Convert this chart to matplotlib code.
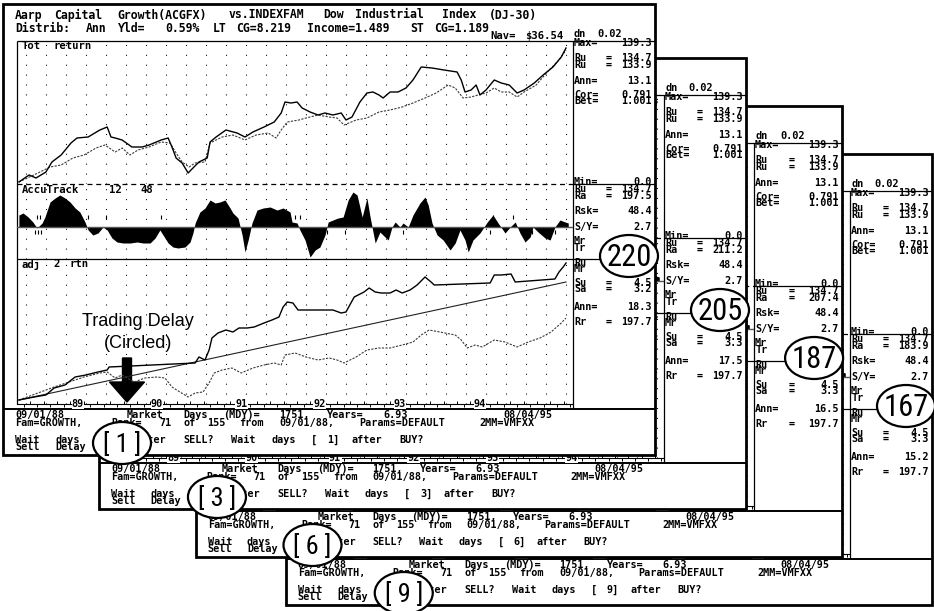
import re
import numpy as np
import matplotlib
matplotlib.use("Agg")
import matplotlib.pyplot as plt
from matplotlib import font_manager
from matplotlib.patches import Rectangle, Ellipse, FancyArrow

W, H = 934, 611

# ---- values (x = market day counted from 09/01/88) ----
tot_days = [6, 38, 60, 91, 110, 139, 170, 189, 224, 261, 284, 296, 309, 331, 362, 394, 416, 454, 476, 488,
            501, 520, 539, 548, 573, 599, 608, 627, 658, 693, 718, 743, 778, 810, 832, 844, 863, 882, 898, 923,
            948, 970, 995, 1021, 1036, 1055, 1080, 1102, 1121, 1140, 1153, 1175, 1200, 1225, 1247, 1273, 1307,
            1345, 1386, 1399, 1411, 1430, 1446, 1458, 1477, 1503, 1525, 1550, 1575, 1597, 1629, 1657, 1688,
            1714, 1729]
fund_tot = [2, 9, 6, 12, 22, 29, 41, 46, 47, 54, 57, 47, 46, 44, 37, 37, 39, 44, 46, 37,
            26, 21, 11, 14, 22, 26, 42, 47, 54, 51, 47, 52, 57, 62, 71, 82, 81, 82, 76, 72,
            69, 71, 69, 71, 64, 67, 82, 91, 92, 89, 86, 92, 92, 96, 104, 117, 116,
            114, 112, 104, 92, 94, 99, 89, 94, 104, 101, 99, 91, 94, 101, 109, 117,
            127, 136]

index_days = [6, 66, 104, 139, 176, 211, 249, 277, 309, 331, 356, 381, 416, 454, 482, 501, 520, 542, 561,
              592, 608, 646, 680, 718, 753, 791, 816, 832, 851, 888, 910, 948, 983, 1008, 1030, 1068, 1102,
              1140, 1175, 1213, 1247, 1285, 1320, 1358, 1380, 1405, 1430, 1452, 1477, 1503, 1525, 1550,
              1575, 1597, 1635, 1670, 1707, 1729]
index_tot = [2, 11, 17, 19, 26, 29, 36, 39, 32, 36, 29, 34, 37, 42, 41, 31, 22, 17, 21,
             22, 41, 47, 49, 44, 49, 51, 46, 54, 62, 64, 66, 69, 67, 66, 59, 64, 66,
             72, 74, 77, 81, 86, 91, 99, 96, 86, 87, 89, 91, 96, 92, 92,
             87, 92, 99, 112, 124, 134]

accu_days = [6, 19, 35, 50, 63, 79, 88, 104, 120, 135, 151, 167, 183, 198, 214, 224, 239, 255, 271, 284,
             299, 315, 334, 356, 378, 397, 419, 435, 450, 460, 476, 491, 507, 529, 545, 554, 561, 576, 592,
             608, 624, 639, 655, 671, 680, 696, 709, 718, 728, 740, 756, 775, 797, 819, 838, 860, 866, 882,
             891, 907, 923, 939, 954, 970, 980, 995, 1011, 1027, 1043, 1058, 1071, 1087, 1102, 1112, 1128,
             1143, 1159, 1169, 1181, 1191, 1206, 1216, 1232, 1247, 1269, 1285, 1295, 1307, 1323, 1342,
             1364, 1380, 1395, 1411, 1421, 1436, 1458, 1481, 1499, 1515, 1537, 1553, 1569, 1584, 1600,
             1616, 1625, 1641, 1663, 1679, 1694, 1710, 1726, 1736]
accu_vals = [12, 14, 10, 5, -1, 4, 10, 25, 29, 32, 29, 25, 19, 15, 5, -3, -8, -6, 0, -3,
             -11, -15, -16, -16, -15, -16, -16, -11, -3, -8, -16, -20, -21, -20, -15, -6, 4, 15, 19,
             27, 24, 25, 27, 19, 14, 9, -8, -25, -13, 4, 17, 19, 20, 17, 19, 15, 5, 4,
             -3, -13, -30, -23, -20, -8, 5, 7, 9, 10, 27, 35, 32, 10, 29, 10, -16,
             -5, -10, -13, 0, 5, 0, 4, 0, 12, 24, 30, 22, 4, -8, -13,
             -23, -16, -3, -13, -25, -13, -6, 5, 12, 4, -6, 0, 5, -6, -15,
             -10, 0, -5, -11, -13, 0, 7, 5, 4]
sig_up_days = [63, 72, 224, 280, 454, 876, 891, 1499, 1562]
sig_dn_days = [57, 66, 76, 977, 1033, 1216, 1411, 1490, 1622, 1694]

adj_days = [6, 54, 91, 117, 151, 183, 217, 255, 284, 290, 561, 573, 592, 605, 614, 633, 658, 680, 699, 725,
            747, 778, 803, 825, 838, 851, 869, 885, 970, 995, 1021, 1036, 1062, 1093, 1109, 1128, 1147,
            1175, 1194, 1213, 1238, 1260, 1285, 1304, 1314, 1490, 1503, 1525, 1556, 1569, 1694, 1707,
            1720, 1729]
adj_vals = [4, 7, 9, 16, 19, 27, 29, 32, 34, 37, 41, 47, 44, 54, 66, 71, 74, 72, 76, 76,
            77, 81, 84, 87, 97, 102, 101, 94, 94, 94, 91, 92, 107, 112, 116, 112, 111,
            111, 114, 111, 114, 119, 127, 122, 119, 121, 129, 129, 130, 122, 125, 132,
            137, 141]
bh_days = [6, 66, 117, 164, 211, 261, 284, 309, 331, 369, 403, 441, 466, 488, 513, 539, 561, 586, 605, 621,
           646, 677, 706, 743, 778, 810, 832, 844, 876, 910, 948, 983, 1008, 1030, 1068, 1102, 1140, 1175,
           1213, 1247, 1273, 1298, 1332, 1380, 1399, 1418, 1443, 1465, 1503, 1537, 1575, 1610, 1647,
           1682, 1714, 1729]
bh_vals = [4, 11, 17, 22, 27, 31, 32, 26, 29, 22, 26, 27, 26, 17, 12, 7, 11, 12, 21, 31,
           34, 36, 31, 36, 39, 41, 39, 49, 51, 47, 44, 46, 44, 41, 47, 54, 56, 56,
           59, 62, 69, 74, 72, 69, 64, 56, 59, 57, 64, 62, 57, 62, 66, 72, 81, 86]
trend_days = [6, 1729]
trend_vals = [4, 122]

year_labels = ["89", "90", "91", "92", "93", "94"]
year_days = [192, 441, 706, 954, 1206, 1458]

title = "Aarp Capital Growth(ACGFX) vs.INDEXFAM Dow Industrial Index (DJ-30)"
distrib = "Distrib: Ann Yld=  0.59% LT CG=8.219 Income=1.489 ST CG=1.189"
nav = "Nav= $36.54"
dn = "dn 0.02"
side_labels = ["Max=", "Ru  =", "Ru  =", "Ann=", "Cor=", "Bet=", "Min=", "Ru  =", "Ra  =", "Rsk=",
               "S/Y=", "Mr  =", "Tr  =", "Ru", "Mr", "Su  =", "Sa  =", "Ann=", "Rr  ="]
wait_days = [1, 3, 6, 9]
circled_rank = [220, 205, 187, 167]
ra_vals = ["197.5", "211.2", "207.4", "183.9"]
sa_vals = ["3.2", "3.3", "3.3", "3.3"]
ann_adj_vals = ["18.3", "17.5", "16.5", "15.2"]

# ---- layout (panel 0 is the front screenshot) ----
panel_left = [3, 99, 196, 286]
panel_side = [573, 664, 754, 850]
panel_right = [655, 746, 842, 932]
panel_dy = [0, 54, 102, 150]
side_y = [43, 58, 65, 81, 95, 101, 182, 189, 196, 211, 227, 241, 248, 263, 269, 283, 289, 307, 322]
delay_circle = (122, 443, 58, 42)
rank_circle = (629, 256, 58, 42)
grid_days = np.arange(28, 1751, 63)
month_days = np.arange(0, 1751, 21)

MONO = "DejaVu Sans Mono"
_have = {f.name for f in font_manager.fontManager.ttflist}
NARROW = [f for f in ["Liberation Sans Narrow", "Roboto Condensed", "Roboto", "DejaVu Sans"] if f in _have]
SANS = [f for f in ["Liberation Sans", "Roboto", "DejaVu Sans"] if f in _have]

fig = plt.figure(figsize=(W / 100, H / 100), dpi=100)
fig.patch.set_facecolor("white")


def side_values(k):
    return ["139.3", "134.7", "133.9", "13.1", "0.791", "1.001", "0.0", "134.7", ra_vals[k], "48.4",
            "2.7", "", "", "", "", "4.5", sa_vals[k], ann_adj_vals[k], "197.7"]


def hidden(k, x0, x1, y):
    # text sits under a screenshot that lies in front of panel k
    xc = (x0 + x1) / 2.0
    for j in range(k):
        if (panel_left[j] <= x0 and xc <= panel_right[j]
                and 4 + panel_dy[j] <= y - 4 and y + 4 <= 455 + panel_dy[j]):
            return True
    return False


def in_circle(x, y):
    for cx, cy, w, h in (delay_circle, rank_circle):
        if ((x - cx) / (w / 2.0)) ** 2 + ((y - cy) / (h / 2.0)) ** 2 < 1:
            return True
    return False


def draw_panel(k):
    L, S, R, dy = panel_left[k], panel_side[k], panel_right[k], panel_dy[k]

    def X(x):
        if x <= 573:
            return L + (x - 3) * (S - L) / 570.0
        return S + (x - 573) * (R - S) / 82.0

    def Y(y):
        return y + dy

    z = 10 * (4 - k)
    pax = fig.add_axes([0, 0, 1, 1], zorder=z)
    pax.set_xlim(0, W)
    pax.set_ylim(H, 0)
    pax.axis("off")

    pax.add_patch(Rectangle((L, Y(4)), R - L, 451,
                            facecolor="white", edgecolor="black", lw=2.0, zorder=1))

    def line(xs, ys, lw=0.9, **kw):
        pax.plot([X(v) for v in xs], [Y(v) for v in ys], color="black", lw=lw,
                 solid_capstyle="butt", zorder=2, **kw)

    def mono(x, y, s, size=8.3, cw=7.9):
        for m in re.finditer(r"\S+", s):
            word = m.group()
            xr = x + m.start() * cw
            if in_circle(xr + len(word) * cw / 2.0, y):
                continue
            xa = X(xr)
            if hidden(k, xa, xa + len(word) * cw, Y(y)):
                continue
            pax.text(xa, Y(y), word, fontsize=size, family=MONO,
                     weight="bold", va="center", ha="left", zorder=3)

    line([17, 655], [40.5, 40.5])
    line([17, 17], [40.5, 404])
    line([573, 573], [40.5, 409])
    line([17, 573], [184, 184], linestyle=(0, (4, 3)))
    line([573, 655], [184, 184])
    line([17, 655], [259, 259])
    line([3, 655], [409, 409], lw=1.4)

    # header
    mono(15, 15, title)
    mono(15, 29, distrib)
    mono(490, 36, nav, size=7.6, cw=7.0)
    mono(574, 34, dn, size=7.4)

    mono(22, 46, "Tot return", size=7.6)
    mono(22, 190, "AccuTrack  12  48", size=7.6)
    mono(22, 264, "adj 2 rtn", size=7.6)

    # statistics column
    for lab, val, yy in zip(side_labels, side_values(k), side_y):
        mono(574, yy, lab, size=7.3)
        if val:
            pax.text(X(652), Y(yy), val, fontsize=7.3, family=MONO, weight="bold",
                     va="center", ha="right", zorder=3)

    # bottom text box
    d = wait_days[k]
    mono(15, 415, "09/01/88      Market Days (MDY)= 1751, Years= 6.93           08/04/95", size=7.3, cw=8.0)
    mono(15, 423, "Fam=GROWTH, Rank= 71 of 155 from 09/01/88, Params=DEFAULT 2MM=VMFXX", size=7.3, cw=8.0)
    mono(15, 440, "Wait days [ %d] after SELL? Wait days [ %d] after BUY?" % (d, d), size=7.3, cw=8.0)
    mono(15, 447.5, "Sell Delay", size=7.3, cw=8.0)

    # circled callouts
    cx, cy, cw_, ch_ = delay_circle
    pax.add_patch(Ellipse((X(cx), Y(cy)), cw_, ch_, facecolor="white", edgecolor="black", lw=1.6, zorder=5))
    pax.text(X(cx), Y(cy + 1), "[ %d ]" % d, fontsize=19, family=NARROW, ha="center", va="center", zorder=6)
    cx, cy, cw_, ch_ = rank_circle
    pax.add_patch(Ellipse((X(cx), Y(cy)), cw_, ch_, facecolor="white", edgecolor="black", lw=1.6, zorder=5))
    pax.text(X(cx), Y(cy + 1), str(circled_rank[k]), fontsize=22, family=NARROW,
             ha="center", va="center", zorder=6)

    if k == 0:
        pax.text(X(138), Y(321), "Trading Delay", fontsize=13, family=SANS, ha="center", va="center", zorder=4)
        pax.text(X(138), Y(343), "(Circled)", fontsize=13, family=SANS, ha="center", va="center", zorder=4)
        pax.add_patch(FancyArrow(X(127), Y(358), 0, 44, width=9, head_width=35, head_length=20,
                                 length_includes_head=True, color="black", zorder=4))

    def chart(x0, y0, x1, y1, grid=True):
        a = fig.add_axes([X(x0) / W, 1 - Y(y1) / H, (X(x1) - X(x0)) / W, (y1 - y0) / H], zorder=z + 1)
        a.patch.set_alpha(0)
        for s in a.spines.values():
            s.set_visible(False)
        a.set_xlim(0, 1751)
        a.set_yticks([])
        a.set_xticks(grid_days if grid else [])
        a.tick_params(length=0, labelbottom=False, labelleft=False)
        if grid:
            a.grid(axis="x", color="black", lw=0.75, linestyle=(0, (1, 8.5)))
        return a

    tot = chart(17, 40.5, 573, 184)
    tot.set_ylim(0, 143.5)
    tot.plot(index_days, index_tot, color="#3a3a3a", lw=0.8, linestyle=(0, (2, 1.2)))
    tot.plot(tot_days, fund_tot, color="black", lw=1.0)

    acc = chart(17, 184, 573, 259)
    acc.set_ylim(-32, 43)
    acc.axhline(0, color="#555555", lw=1.0)
    acc.fill_between(accu_days, 0, accu_vals, color="black", lw=0)
    acc.vlines(sig_up_days, 8, 12, color="black", lw=0.8)
    acc.vlines(sig_dn_days, -7, -3, color="black", lw=0.8)

    adj = chart(17, 259, 573, 404)
    adj.set_ylim(0, 145)
    adj.plot(trend_days, trend_vals, color="#222222", lw=0.8)
    adj.plot(bh_days, bh_vals, color="#3a3a3a", lw=0.8, linestyle=(0, (2, 1.2)))
    adj.plot(adj_days, adj_vals, color="black", lw=1.0)

    strip = chart(17, 399, 573, 409, grid=False)
    strip.set_ylim(0, 10)
    strip.axhline(5, color="black", lw=0.8)
    strip.vlines(month_days[::2], 5, 8, color="black", lw=0.7)
    strip.vlines(month_days[1::2], 2, 5, color="black", lw=0.7)
    for lab, dday in zip(year_labels, year_days):
        xa = X(17 + dday / 1751.0 * 556)
        if hidden(k, xa - 8, xa + 8, Y(404)):
            continue
        strip.text(dday, 5, lab, fontsize=7.3, family=MONO, weight="bold", ha="center", va="center",
                   bbox=dict(facecolor="white", edgecolor="none", pad=0.2), zorder=3)


for k in [3, 2, 1, 0]:
    draw_panel(k)

fig.savefig("out.png", dpi=100, facecolor="white")
